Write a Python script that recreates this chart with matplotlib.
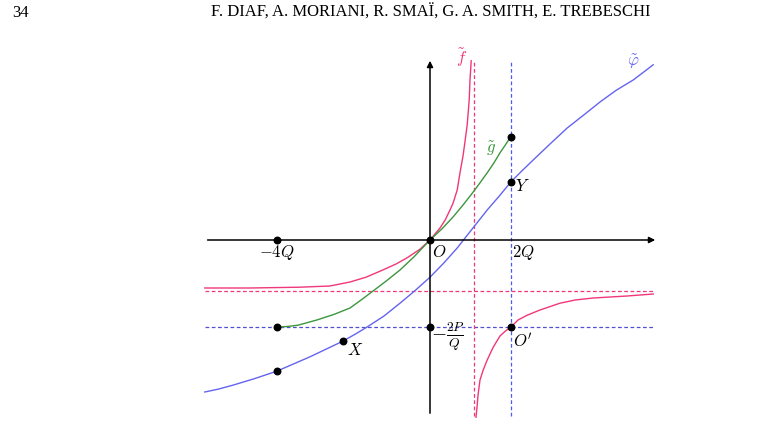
import matplotlib.pyplot as plt

plt.rcParams['mathtext.fontset'] = 'cm'

# curves (units: O at origin, 1 unit ~ 40 px)
f_left_x = [-5.63, -4.50, -3.25, -2.50, -2.00, -1.60, -1.18, -0.85, -0.58, -0.25, 0.0, 0.25,
            0.38, 0.50, 0.58, 0.68, 0.75, 0.83, 0.88, 0.93, 0.98, 1.00, 1.03]
f_left_y = [-1.20, -1.20, -1.18, -1.15, -1.05, -0.93, -0.75, -0.60, -0.45, -0.23, 0.0, 0.30,
            0.50, 0.75, 0.93, 1.25, 1.68, 2.13, 2.50, 2.88, 3.50, 4.00, 4.48]
f_right_x = [1.15, 1.18, 1.20, 1.25, 1.33, 1.43, 1.58, 1.75, 1.88, 2.02, 2.20, 2.43, 2.75,
             3.25, 3.63, 4.08, 4.93, 5.58]
f_right_y = [-4.43, -4.13, -3.88, -3.50, -3.25, -3.00, -2.68, -2.40, -2.28, -2.18, -2.00, -1.88, -1.75,
             -1.58, -1.50, -1.45, -1.40, -1.35]
g_x = [-3.83, -3.55, -3.30, -2.83, -2.40, -2.00, -1.75, -1.43, -1.10, -0.75, -0.40, 0.0,
       0.30, 0.58, 0.83, 1.08, 1.25, 1.43, 1.60, 1.75, 1.90, 2.02]
g_y = [-2.18, -2.16, -2.13, -2.00, -1.86, -1.70, -1.52, -1.28, -1.03, -0.75, -0.42, 0.0,
       0.28, 0.58, 0.88, 1.20, 1.43, 1.68, 1.93, 2.18, 2.40, 2.58]
phi_x = [-5.63, -5.30, -4.93, -4.40, -3.83, -3.00, -2.18, -1.88, -1.58, -1.15, -0.75, -0.38,
         0.0, 0.35, 0.68, 1.05, 1.43, 1.75, 2.02, 2.30, 2.58, 3.00, 3.43, 3.85, 4.25, 4.65,
         5.08, 5.33, 5.58]
phi_y = [-3.80, -3.73, -3.63, -3.47, -3.28, -2.92, -2.53, -2.36, -2.18, -1.90, -1.58, -1.27,
         -0.93, -0.57, -0.20, 0.27, 0.75, 1.12, 1.45, 1.73, 2.00, 2.40, 2.80, 3.13, 3.45, 3.74,
         4.00, 4.19, 4.38]

# special points
Q2 = 2.02       # 2Q
Q4 = -3.83      # -4Q
y_o2 = -2.18    # -2P/Q
f_asym_x = 1.09
f_asym_y = -1.28
dots_x = [0, Q4, Q4, -2.18, Q4, 0, Q2, Q2, Q2]
dots_y = [0, 0, y_o2, -2.53, -3.28, y_o2, y_o2, 1.45, 2.58]

pink = '#f0377a'
green = '#3c963c'
blue = '#6464f0'

fig = plt.figure(figsize=(7.72, 4.44), dpi=100)
ax = fig.add_axes([0, 0, 1, 1])
ax.set_xlim(-10.75, 8.55)
ax.set_ylim(-5.1, 6.0)
ax.axis('off')

# asymptotes / guide lines
ax.plot([-5.63, 5.6], [f_asym_y]*2, color=pink, lw=0.9, ls=(0, (3, 2)))
ax.plot([-5.63, 5.6], [y_o2]*2, color='#5050d0', lw=0.9, ls=(0, (3, 2)))
ax.plot([f_asym_x]*2, [-4.4, 4.5], color=pink, lw=0.9, ls=(0, (3, 2)))
ax.plot([Q2]*2, [-4.4, 4.5], color='#4c5cf0', lw=0.9, ls=(0, (3, 2)))

# axes
ax.annotate('', xy=(5.7, 0), xytext=(-5.63, 0),
            arrowprops=dict(arrowstyle='-|>', color='black', lw=1.1, mutation_scale=9))
ax.annotate('', xy=(0, 4.55), xytext=(0, -4.4),
            arrowprops=dict(arrowstyle='-|>', color='black', lw=1.1, mutation_scale=9))

# curves
ax.plot(f_left_x, f_left_y, color=pink, lw=1.0)
ax.plot(f_right_x, f_right_y, color=pink, lw=1.0)
ax.plot(g_x, g_y, color=green, lw=1.0)
ax.plot(phi_x, phi_y, color=blue, lw=1.0)

ax.scatter(dots_x, dots_y, s=22, color='black', zorder=5)

# labels
fs = 12
ax.text(0.78, 4.55, r'$\tilde{f}$', color=pink, fontsize=fs, ha='center', va='center')
ax.text(5.08, 4.45, r'$\tilde{\varphi}$', color=blue, fontsize=fs, ha='center', va='center')
ax.text(1.53, 2.28, r'$\tilde{g}$', color=green, fontsize=fs, ha='center', va='center')
ax.text(2.12, 1.35, r'$Y$', fontsize=fs, ha='left', va='center')
ax.text(-2.08, -2.75, r'$X$', fontsize=fs, ha='left', va='center')
ax.text(0.05, -0.08, r'$O$', fontsize=fs, ha='left', va='top')
ax.text(Q2 + 0.02, -0.08, r'$2Q$', fontsize=fs, ha='left', va='top')
ax.text(Q4, -0.08, r'$-4Q$', fontsize=fs, ha='center', va='top')
ax.text(0.02, -2.42, r'$-\frac{2P}{Q}$', fontsize=14, ha='left', va='center')
ax.text(Q2 + 0.06, -2.32, r"$O'$", fontsize=fs, ha='left', va='top')

# running header
fig.text(12 / 772, 1 - 13 / 444, '34', fontsize=12, family='Liberation Serif', va='center', ha='left')
fig.text(431 / 772, 1 - 13 / 444, 'F. DIAF, A. MORIANI, R. SMAÏ, G. A. SMITH, E. TREBESCHI',
         fontsize=12, family='Liberation Serif', va='center', ha='center')

fig.savefig('out.png', dpi=100)
